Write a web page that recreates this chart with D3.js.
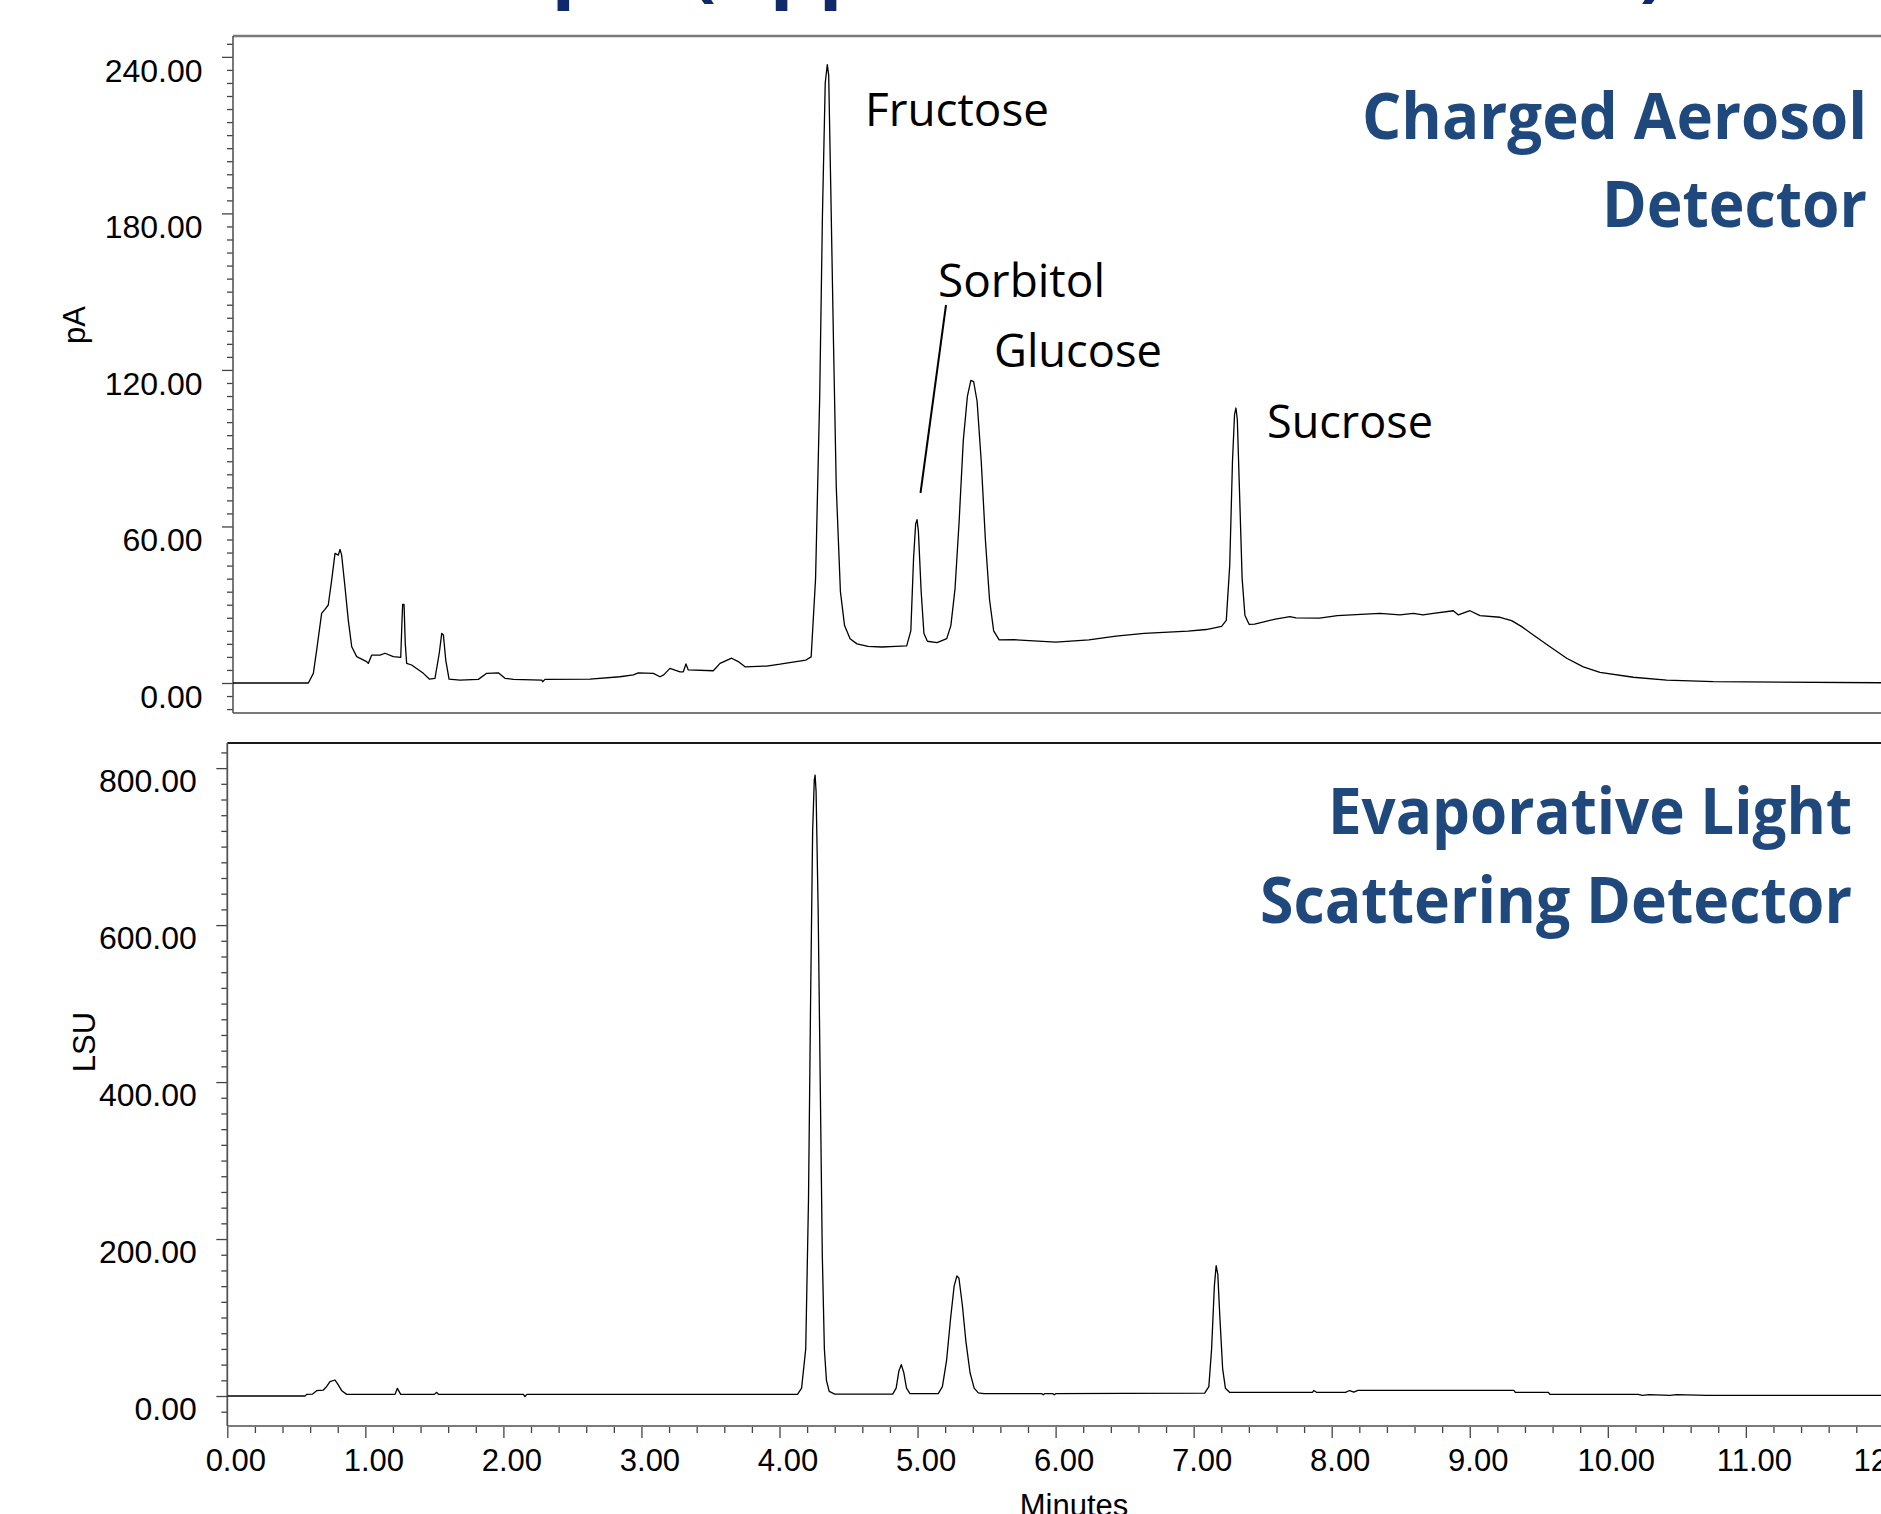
<!DOCTYPE html>
<html><head><meta charset="utf-8">
<script src="https://cdn.jsdelivr.net/npm/d3@7"></script>
<style>html,body{margin:0;padding:0;background:#fff;overflow:hidden}</style>
</head><body><svg id="c" width="1881" height="1514" xmlns="http://www.w3.org/2000/svg"></svg>
<script>
// ---------------- data ----------------
const titleText = "Real Sample (Apple Cider Diluted 1:10)";
const cadTitle = ["Charged Aerosol", "Detector"];
const elsdTitle = ["Evaporative Light", "Scattering Detector"];
const peakNames = ["Fructose", "Sorbitol", "Glucose", "Sucrose"];
const cadAxisTitle = "pA";
const elsdAxisTitle = "LSU";
const timeAxisTitle = "Minutes";
const cadMajorTicks = [0, 60, 120, 180, 240];
const elsdMajorTicks = [0, 200, 400, 600, 800];
const timeMajorTicks = [0, 1, 2, 3, 4, 5, 6, 7, 8, 9, 10, 11, 12];

// CAD trace: [minutes, pA]
const cadTrace = [
[0.00,0.0],[0.546,0.0],[0.582,3.7],[0.606,12.6],[0.642,26.7],[0.666,28.2],[0.690,29.9],[0.715,39.5],[0.739,49.7],[0.763,49.0],[0.775,51.2],[0.787,49.0],[0.811,36.9],[0.835,24.1],[0.860,13.9],[0.896,10.1],[0.968,8.2],[0.980,7.5],[1.005,10.7],[1.065,10.7],[1.101,11.4],[1.161,10.1],[1.215,9.8],[1.225,25.0],[1.229,30.1],[1.239,30.1],[1.248,15.0],[1.258,7.5],[1.294,6.9],[1.379,3.7],[1.422,1.5],[1.463,1.8],[1.494,11.4],[1.512,19.0],[1.524,18.4],[1.541,8.8],[1.565,1.5],[1.644,1.1],[1.777,1.4],[1.838,3.7],[1.922,3.9],[1.970,1.8],[2.031,1.4],[2.236,1.1],[2.243,0.5],[2.260,1.4],[2.586,1.5],[2.803,2.4],[2.900,3.1],[2.936,3.9],[3.045,3.7],[3.093,2.4],[3.120,3.1],[3.165,5.6],[3.238,4.3],[3.262,4.3],[3.281,7.3],[3.298,5.0],[3.479,4.7],[3.528,7.5],[3.612,9.5],[3.660,8.2],[3.709,6.2],[3.866,6.5],[3.962,7.2],[4.150,8.8],[4.188,10.0],[4.22,40],[4.25,110],[4.27,180],[4.29,230],[4.305,237],[4.315,233],[4.33,190],[4.35,130],[4.37,75],[4.40,35],[4.43,22],[4.47,17],[4.52,15],[4.60,14],[4.70,13.8],[4.80,14],[4.88,14.2],[4.91,20],[4.93,48],[4.945,61],[4.955,62.6],[4.965,58],[4.985,35],[5.005,19],[5.03,16],[5.10,15.5],[5.17,17],[5.20,22],[5.23,36],[5.26,62],[5.29,93],[5.32,110],[5.345,116],[5.365,115.5],[5.39,108],[5.42,85],[5.45,55],[5.48,32],[5.51,20],[5.55,16.5],[5.657,16.6],[5.96,15.7],[6.20,16.5],[6.396,18],[6.60,19],[6.918,19.9],[7.05,20.5],[7.161,21.7],[7.195,24],[7.22,45],[7.24,85],[7.255,103],[7.265,105.4],[7.275,101],[7.29,75],[7.31,40],[7.33,26],[7.36,22.5],[7.40,22.6],[7.55,24.5],[7.657,25.4],[7.70,25.0],[7.87,24.9],[8.00,25.8],[8.307,26.7],[8.453,26.1],[8.55,26.7],[8.62,26.1],[8.695,26.7],[8.84,27.7],[8.876,26.1],[8.96,27.7],[9.033,25.8],[9.178,25.2],[9.262,23.9],[9.335,21.6],[9.419,18.4],[9.540,13.9],[9.661,9.5],[9.781,6.2],[9.902,4.1],[10.143,2.2],[10.385,1.1],[10.723,0.5],[12.2,0.0]
];

// ELSD trace: [minutes, LSU]
const elsdTrace = [
[0,0],[0.563,0],[0.575,2.1],[0.618,2.5],[0.647,6.8],[0.696,7.6],[0.715,11.1],[0.744,18.3],[0.780,20.4],[0.797,16.2],[0.829,6.8],[0.865,2.1],[1.215,2.1],[1.232,9.8],[1.256,2.1],[1.500,2.1],[1.517,4.7],[1.530,2.1],[2.145,2.1],[2.156,-0.8],[2.170,2.1],[3.207,2.1],[4.13,2.2],[4.16,10],[4.19,60],[4.21,250],[4.225,500],[4.24,720],[4.252,785],[4.258,791],[4.265,770],[4.28,620],[4.295,400],[4.31,180],[4.325,60],[4.34,20],[4.36,6],[4.40,2.5],[4.82,2.5],[4.845,10],[4.865,32],[4.882,40],[4.90,30],[4.92,10],[4.945,3],[5.15,3],[5.18,12],[5.21,45],[5.24,100],[5.265,140],[5.285,153],[5.30,150],[5.325,115],[5.35,70],[5.38,30],[5.41,10],[5.44,4],[5.48,3],[5.90,3],[5.91,1.5],[5.92,3],[5.98,3],[5.99,1.5],[6.00,3],[6.50,3.3],[7.08,3.8],[7.11,12],[7.13,60],[7.15,140],[7.163,166],[7.175,155],[7.19,100],[7.21,35],[7.23,10],[7.26,4.7],[7.86,4.7],[7.87,7],[7.89,4.7],[8.10,4.7],[8.13,7],[8.16,5],[8.19,7.2],[9.32,7.2],[9.33,4.7],[9.57,4.7],[9.58,2.1],[10.22,2.1],[10.25,0.8],[10.30,1.8],[10.45,0.8],[10.50,1.8],[10.72,0.8],[12.2,0.8]
];

// ---------------- layout ----------------
const W = 1881, H = 1514;
const svg = d3.select("#c");
const axisFont = "'Liberation Sans', Arial, sans-serif";
const calFont = "'Open Sans', sans-serif";
const pxPerMin = 138.05;

const pTop = {left: 233, top: 36, bottom: 713, right: 1920};
const pBot = {left: 227.3, top: 743, bottom: 1426, right: 1920};

const xCad = d3.scaleLinear().domain([0, 12]).range([pTop.left, pTop.left + pxPerMin * 12]);
const yCad = d3.scaleLinear().domain([-11.5, 248]).range([pTop.bottom, pTop.top]);
const xEl = d3.scaleLinear().domain([0, 12]).range([pBot.left, pBot.left + pxPerMin * 12]);
const yEl = d3.scaleLinear().domain([-38.2, 832]).range([pBot.bottom, pBot.top]);

const defs = svg.append("defs");
defs.append("clipPath").attr("id", "clipTop").append("rect")
  .attr("x", pTop.left).attr("y", pTop.top).attr("width", pTop.right - pTop.left).attr("height", pTop.bottom - pTop.top);
defs.append("clipPath").attr("id", "clipBot").append("rect")
  .attr("x", pBot.left).attr("y", pBot.top).attr("width", pBot.right - pBot.left).attr("height", pBot.bottom - pBot.top);

// title (cut off at the top of the page)
const title = svg.append("text").attr("font-family", calFont).attr("font-weight", 700)
  .attr("font-size", 72).attr("fill", "#10296A").attr("x", 0).attr("y", -8).text(titleText);
(function placeTitle(){
  const node = title.node();
  const iOpen = titleText.indexOf("("), iClose = titleText.lastIndexOf(")");
  let a = node.getStartPositionOfChar(iOpen).x, b = node.getEndPositionOfChar(iClose).x;
  const s = (1666 - 690) / (b - a);
  title.attr("font-size", 72 * s);
  a = node.getStartPositionOfChar(iOpen).x;
  title.attr("x", 690 - a);
})();

// ---------- axes: CAD ----------
function styleAxis(g) {
  g.select(".domain").remove();
  g.selectAll("line").attr("stroke", "#444").attr("stroke-width", 1.3);
}
const cadMinor = d3.range(-10, 248, 5).filter(v => !cadMajorTicks.includes(v));
svg.append("g").attr("transform", `translate(${pTop.left},0)`)
  .call(d3.axisLeft(yCad).tickValues(cadMinor).tickSize(6).tickFormat(""))
  .call(styleAxis);
svg.append("g").attr("transform", `translate(${pTop.left},0)`)
  .call(d3.axisLeft(yCad).tickValues(cadMajorTicks).tickSize(11).tickPadding(19.5).tickFormat(d3.format(".2f")))
  .call(styleAxis)
  .call(g => g.selectAll("text").attr("font-family", axisFont).attr("font-size", 32).attr("fill", "#000").attr("y", 14));

// ---------- axes: ELSD ----------
const elMinor = d3.range(-20, 832, 20).filter(v => !elsdMajorTicks.includes(v));
svg.append("g").attr("transform", `translate(${pBot.left},0)`)
  .call(d3.axisLeft(yEl).tickValues(elMinor).tickSize(6).tickFormat(""))
  .call(styleAxis);
svg.append("g").attr("transform", `translate(${pBot.left},0)`)
  .call(d3.axisLeft(yEl).tickValues(elsdMajorTicks).tickSize(11).tickPadding(19.5).tickFormat(d3.format(".2f")))
  .call(styleAxis)
  .call(g => g.selectAll("text").attr("font-family", axisFont).attr("font-size", 32).attr("fill", "#000").attr("y", 13));

// ---------- time axis ----------
const tMinor = d3.range(0, 12.3, 0.2).map(v => +v.toFixed(1)).filter(v => !timeMajorTicks.includes(v));
svg.append("g").attr("transform", `translate(0,${pBot.bottom})`)
  .call(d3.axisBottom(xEl).tickValues(tMinor).tickSize(7).tickFormat(""))
  .call(styleAxis);
svg.append("g").attr("transform", `translate(0,${pBot.bottom})`)
  .call(d3.axisBottom(xEl).tickValues(timeMajorTicks).tickSize(12).tickPadding(11).tickFormat(d3.format(".2f")))
  .call(styleAxis)
  .call(g => g.selectAll("text").attr("font-family", axisFont).attr("font-size", 31).attr("fill", "#000").attr("dx", 8));

// ---------- frames ----------
function hline(x1, x2, y, c, w) { svg.append("line").attr("x1", x1).attr("x2", x2).attr("y1", y).attr("y2", y).attr("stroke", c).attr("stroke-width", w); }
function vline(x, y1, y2, c, w) { svg.append("line").attr("x1", x).attr("x2", x).attr("y1", y1).attr("y2", y2).attr("stroke", c).attr("stroke-width", w); }
hline(pTop.left, W + 10, pTop.top, "#7a7a7a", 2.5);
hline(pTop.left, W + 10, pTop.bottom, "#7a7a7a", 2.2);
vline(pTop.left, pTop.top, pTop.bottom, "#555", 1.6);
hline(pBot.left, W + 10, pBot.top, "#1a1a1a", 2);
hline(pBot.left, W + 10, pBot.bottom, "#7a7a7a", 2.2);
vline(pBot.left, pBot.top, pBot.bottom, "#555", 1.8);

// ---------- traces ----------
svg.append("path").datum(cadTrace).attr("clip-path", "url(#clipTop)")
  .attr("fill", "none").attr("stroke", "#000").attr("stroke-width", 1.3).attr("stroke-linejoin", "round")
  .attr("d", d3.line().x(d => xCad(d[0])).y(d => yCad(d[1])));
svg.append("path").datum(elsdTrace).attr("clip-path", "url(#clipBot)")
  .attr("fill", "none").attr("stroke", "#000").attr("stroke-width", 1.3).attr("stroke-linejoin", "round")
  .attr("d", d3.line().x(d => xEl(d[0])).y(d => yEl(d[1])));

// ---------- axis titles ----------
svg.append("text").attr("transform", "translate(74,325) rotate(-90)").attr("text-anchor", "middle")
  .attr("dy", "0.35em").attr("font-family", axisFont).attr("font-size", 31).text(cadAxisTitle);
svg.append("text").attr("transform", "translate(84,1042) rotate(-90)").attr("text-anchor", "middle")
  .attr("dy", "0.35em").attr("font-family", axisFont).attr("font-size", 31).text(elsdAxisTitle);
svg.append("text").attr("x", 1074).attr("y", 1516).attr("text-anchor", "middle")
  .attr("font-family", axisFont).attr("font-size", 31).text(timeAxisTitle);

// ---------- peak labels ----------
const peakLayout = [
  {x: 865, y: 126, w: 184},
  {x: 938, y: 297, w: 167},
  {x: 994, y: 367, w: 168},
  {x: 1267, y: 438, w: 166}
];
peakNames.forEach((n, i) => {
  const p = peakLayout[i];
  svg.append("text").attr("x", p.x).attr("y", p.y).attr("font-family", calFont).attr("font-size", 45)
    .attr("fill", "#000").attr("textLength", p.w).attr("lengthAdjust", "spacingAndGlyphs").text(n);
});
svg.append("line").attr("x1", 946).attr("y1", 305).attr("x2", 920.5).attr("y2", 493)
  .attr("stroke", "#000").attr("stroke-width", 2);

// ---------- detector headings ----------
const headLayout = [
  {x: 1867, y: 139, w: 505}, {x: 1867, y: 227, w: 265},
  {x: 1852, y: 834, w: 524}, {x: 1852, y: 923, w: 592}
];
cadTitle.concat(elsdTitle).forEach((t, i) => {
  const p = headLayout[i];
  svg.append("text").attr("x", p.x).attr("y", p.y).attr("text-anchor", "end")
    .attr("font-family", calFont).attr("font-weight", 700).attr("font-size", 64).attr("fill", "#1F497D")
    .attr("textLength", p.w).attr("lengthAdjust", "spacingAndGlyphs").text(t);
});
</script>
</body></html>
